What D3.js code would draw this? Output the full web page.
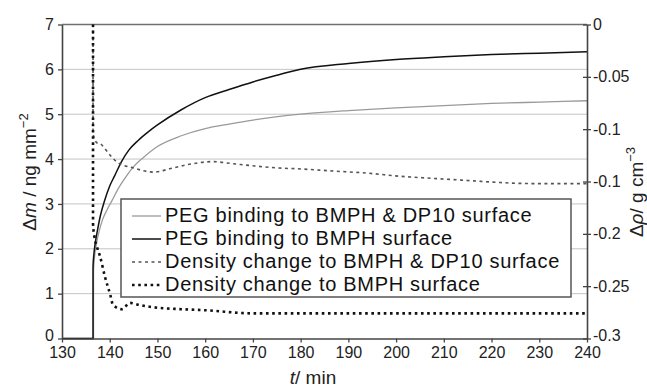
<!DOCTYPE html>
<html><head><meta charset="utf-8">
<script src="https://cdn.jsdelivr.net/npm/d3@7"></script>
<style>
html,body{margin:0;padding:0;background:#fff;}
svg{display:block;font-family:"Liberation Sans",Arial,sans-serif;}
</style></head>
<body><svg id="c" width="647" height="387"></svg>
<script>
// ---- data ----
const xTicks = [130,140,150,160,170,180,190,200,210,220,230,240];
const yLeftTicks = [0,1,2,3,4,5,6,7];
const yRightTicks = [0,-0.05,-0.1,-0.15,-0.2,-0.25,-0.3];
const yRightLabels = ["0","-0.05","-0.1","-0.1","-0.2","-0.25","-0.3"];

const tMassBMPH = [130,136.5,136.5,136.7,137,137.5,138,139,140,141,142.5,144,146,148,150,155,160,165,170,175,180,190,200,210,220,230,240];
const massBMPH  = [0,0,1.6,1.9,2.15,2.45,2.72,3.1,3.4,3.62,3.95,4.2,4.42,4.6,4.76,5.1,5.37,5.55,5.72,5.87,6.0,6.13,6.22,6.28,6.33,6.36,6.39];

const tMassDP10 = [130,136.6,136.6,136.8,137.2,137.8,138.5,139.5,140.5,142,143.5,145,147,150,155,160,165,170,180,190,200,210,220,230,240];
const massDP10  = [0,0,1.5,1.8,2.1,2.4,2.65,2.88,3.08,3.38,3.62,3.83,4.03,4.28,4.52,4.68,4.78,4.87,5.0,5.08,5.14,5.19,5.24,5.27,5.3];

const tDensDP10 = [136.5,136.5,136.8,137.3,138,140.1,141.7,144.9,149.1,153.3,157.4,161.6,165.8,170,175,180,186.8,193.9,200.8,207.7,214.9,221.8,228.7,235.8,240];
const densDP10  = [0,-0.104,-0.109,-0.113,-0.114,-0.125,-0.132,-0.137,-0.141,-0.137,-0.133,-0.131,-0.133,-0.135,-0.137,-0.138,-0.140,-0.142,-0.145,-0.147,-0.149,-0.151,-0.152,-0.152,-0.152];

const tDensBMPH = [136.5,136.5,136.8,137.3,138,139,140.1,140.7,142.6,144.2,146.3,148.9,155,160,170,180,200,220,240];
const densBMPH  = [0,-0.19,-0.203,-0.212,-0.222,-0.241,-0.258,-0.268,-0.272,-0.266,-0.268,-0.27,-0.272,-0.273,-0.276,-0.276,-0.276,-0.276,-0.276];

const legendLabels = ["PEG binding to BMPH & DP10 surface","PEG binding to BMPH surface","Density change to BMPH & DP10 surface","Density change to BMPH surface"];

// ---- chart ----
const svg = d3.select("#c");
const L=62, R=587, T=24.5, B=338.5;
const x = d3.scaleLinear().domain([130,240]).range([L,R]);
const yL = d3.scaleLinear().domain([0,7]).range([B,T]);
const yR = d3.scaleLinear().domain([-0.3,0]).range([B,T]);

// gridlines
svg.append("g").selectAll("line").data(yLeftTicks.filter(d=>d>0&&d<7)).join("line")
  .attr("x1",L).attr("x2",R).attr("y1",d=>yL(d)).attr("y2",d=>yL(d))
  .attr("stroke","#c4c4c4").attr("stroke-width",1);
// top border
svg.append("line").attr("x1",L).attr("x2",R).attr("y1",yL(7)).attr("y2",yL(7))
  .attr("stroke","#707070").attr("stroke-width",1.6);

const styles = [
  {stroke:"#9a9a9a", w:1.3, dash:null},
  {stroke:"#111", w:1.5, dash:null},
  {stroke:"#555", w:1.6, dash:"3,3.5"},
  {stroke:"#111", w:2.6, dash:"2.6,3.6"}
];
const series = [
  {t:tMassDP10, v:massDP10, y:yL},
  {t:tMassBMPH, v:massBMPH, y:yL},
  {t:tDensDP10, v:densDP10, y:yR},
  {t:tDensBMPH, v:densBMPH, y:yR}
];
series.forEach((s,i)=>{
  const pts = s.t.map((t,j)=>[t,s.v[j]]);
  const line = d3.line().x(d=>x(d[0])).y(d=>s.y(d[1])).curve(d3.curveMonotoneX);
  svg.append("path").datum(pts).attr("d",line).attr("fill","none")
    .attr("stroke",styles[i].stroke).attr("stroke-width",styles[i].w)
    .attr("stroke-dasharray",styles[i].dash);
});

// axes
const fs = "16px";
const gx = svg.append("g").attr("transform",`translate(0,${B})`)
  .call(d3.axisBottom(x).tickValues(xTicks).tickSize(4).tickSizeOuter(0).tickPadding(4));
const gyl = svg.append("g").attr("transform",`translate(${L},0)`)
  .call(d3.axisLeft(yL).tickValues(yLeftTicks).tickFormat(d3.format("d")).tickSize(4).tickSizeOuter(0).tickPadding(4));
const gyr = svg.append("g").attr("transform",`translate(${R},0)`)
  .call(d3.axisRight(yR).tickValues(yRightTicks).tickSize(4).tickSizeOuter(0).tickPadding(2)
    .tickFormat((d,i)=>yRightLabels[i]));
gyr.selectAll(".tick line").attr("x1",-4);
[gx,gyl,gyr].forEach(g=>{
  g.select(".domain").attr("stroke","#444").attr("stroke-width",1.6);
  g.selectAll(".tick line").attr("stroke","#444").attr("stroke-width",1.3);
  g.selectAll(".tick text").attr("font-size",fs).attr("fill","#222")
    .attr("font-family","Liberation Sans, Arial, sans-serif");
});
// nudge the corner labels up slightly so they clear the x tick labels
gyl.selectAll(".tick text").filter(d=>d===0).attr("dy","0.1em");
gyr.selectAll(".tick text").filter(d=>d===-0.3).attr("dy","0.1em");

// axis titles
const xt = svg.append("text").attr("x",313).attr("y",384).attr("text-anchor","middle")
  .attr("font-size","19px").attr("fill","#222");
xt.append("tspan").attr("font-style","italic").text("t");
xt.append("tspan").text("/ min");

const ylt = svg.append("text").attr("transform","translate(36,172) rotate(-90)")
  .attr("text-anchor","middle").attr("font-size","19px").attr("fill","#222");
ylt.append("tspan").text("Δ");
ylt.append("tspan").attr("font-style","italic").text("m");
ylt.append("tspan").text(" / ng mm");
ylt.append("tspan").attr("dy",-8).attr("font-size","13px").text("−2");

const yrt = svg.append("text").attr("transform","translate(643,192) rotate(-90)")
  .attr("text-anchor","middle").attr("font-size","19px").attr("fill","#222");
yrt.append("tspan").text("Δ");
yrt.append("tspan").attr("font-style","italic").text("ρ");
yrt.append("tspan").text("/ g cm");
yrt.append("tspan").attr("dy",-8).attr("font-size","13px").text("−3");

// legend
const lg = svg.append("g");
lg.append("rect").attr("x",121).attr("y",199).attr("width",450).attr("height",98)
  .attr("fill","#fff").attr("stroke","#555").attr("stroke-width",1.5);
legendLabels.forEach((lab,i)=>{
  const by = 222 + i*23;
  lg.append("line").attr("x1",132).attr("x2",161).attr("y1",by-6).attr("y2",by-6)
    .attr("stroke",styles[i].stroke).attr("stroke-width",styles[i].w)
    .attr("stroke-dasharray",styles[i].dash);
  lg.append("text").attr("x",165).attr("y",by).attr("font-size","20px")
    .attr("letter-spacing","0.7px").attr("fill","#111").text(lab);
});
</script></body></html>
